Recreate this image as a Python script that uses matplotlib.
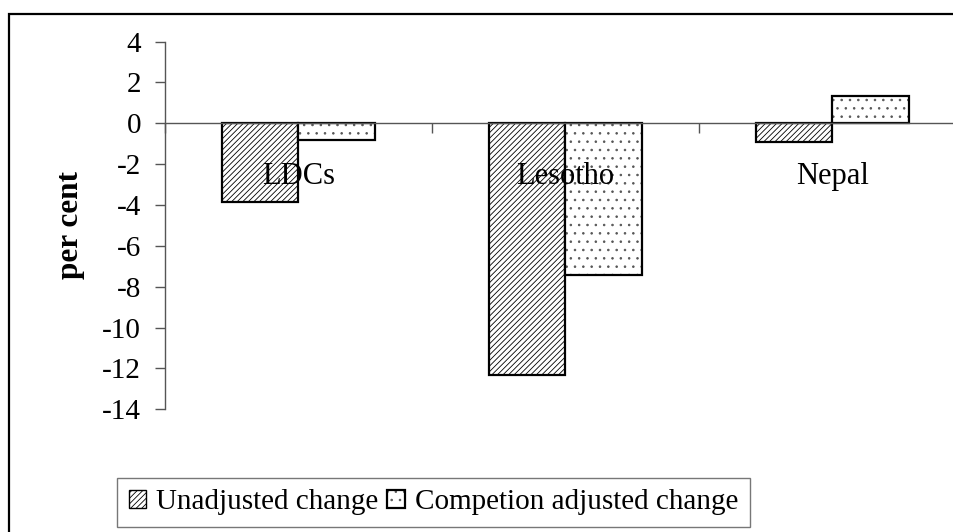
import matplotlib
matplotlib.use('Agg')
import matplotlib.pyplot as plt
from matplotlib.patches import Rectangle
import numpy as np

# data
countries = ['LDCs', 'Lesotho', 'Nepal']
unadjusted = [-3.85, -12.3, -0.93]
adjusted = [-0.8, -7.45, 1.36]
series_names = ['Unadjusted change', 'Competion adjusted change']
yticks = np.arange(-14, 5, 2)

plt.rcParams['font.family'] = ['Liberation Serif', 'DejaVu Serif']
plt.rcParams['hatch.linewidth'] = 0.6

W, H = 954, 532
fig = plt.figure(figsize=(W / 100, H / 100), dpi=100)

# outer chart frame (clipped at right and bottom like the original)
fig.patches.append(Rectangle((9 / W, -0.2), 1.2, 1 - 13.5 / H + 0.2, transform=fig.transFigure,
                             fill=False, edgecolor='black', linewidth=1.6, clip_on=False))

ax = fig.add_axes([165 / W, (H - 409.3) / H, 801 / W, (409.3 - 41.6) / H])

x = np.arange(len(countries)) + 0.5
bw = 0.288
b1 = ax.bar(x - bw / 2, unadjusted, bw, facecolor='white', edgecolor='black',
            hatch='//////', linewidth=1.6)
# dotted fill drawn in grey, outline drawn separately in black
b2_fill = ax.bar(x + bw / 2, adjusted, bw, facecolor='white', edgecolor='#555555',
                 hatch='..', linewidth=0)
b2 = ax.bar(x + bw / 2, adjusted, bw, fill=False, edgecolor='black', linewidth=1.6)

ax.set_xlim(0, 3)
ax.set_ylim(-14, 4)
ax.set_yticks(yticks)
ax.set_yticklabels([str(v) for v in yticks], fontsize=21)

for s in ['top', 'right']:
    ax.spines[s].set_visible(False)
ax.spines['bottom'].set_position(('data', 0))
for s in ['left', 'bottom']:
    ax.spines[s].set_color('#555555')
    ax.spines[s].set_linewidth(1)

# category boundaries as ticks, names as minor tick labels
ax.set_xticks([0, 1, 2, 3])
ax.set_xticklabels([])
ax.set_xticks(x, minor=True)
ax.set_xticklabels(countries, minor=True, fontsize=22)
ax.tick_params(axis='x', which='major', direction='out', length=7.2, width=1, color='#555555')
ax.tick_params(axis='x', which='minor', length=0, pad=28)
ax.tick_params(axis='y', direction='out', length=7.2, width=1, color='#555555', pad=10)

ax.set_ylabel('per cent', fontsize=22.5, fontweight='bold', labelpad=12)

leg = fig.legend(handles=[b1, (b2_fill, b2)], labels=series_names,
                 loc='upper left', bbox_to_anchor=(117 / W, 1 - 477.7 / H),
                 ncol=2, fontsize=21, frameon=True, fancybox=False, edgecolor='#555555',
                 handlelength=0.6, handleheight=0.6, handletextpad=0.35, columnspacing=0.3,
                 borderpad=0.4, borderaxespad=0)
leg.get_frame().set_linewidth(1)
for p in leg.get_patches():
    if p.get_linewidth() > 0:
        p.set_linewidth(1)

fig.savefig('out.png', dpi=100)
